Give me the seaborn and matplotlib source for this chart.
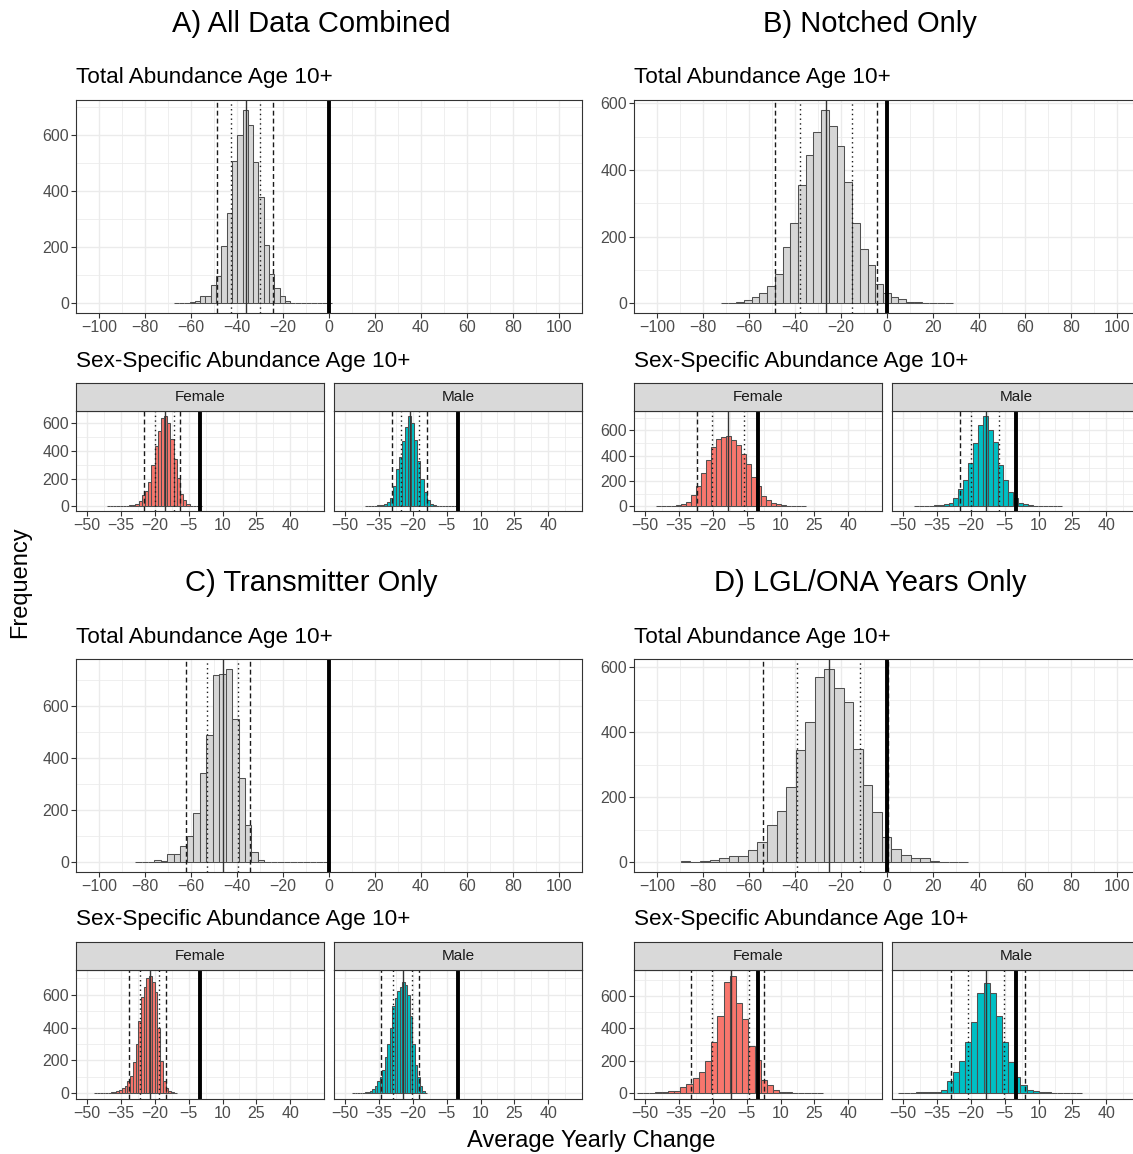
import numpy as np
import pandas as pd
import matplotlib
matplotlib.use("Agg")
import matplotlib.pyplot as plt
from matplotlib.ticker import MultipleLocator, FixedLocator
import seaborn as sns

# ---------------------------------------------------------------------------
# Posterior draws of average yearly change, binned into 30 bins per histogram.
# Each histogram: (low edge, high edge) of the binned range and bin counts.
# Interval lines: 95% low, 80% low, median, 80% high, 95% high.
# ---------------------------------------------------------------------------
panel_titles = ["A) All Data Combined", "B) Notched Only",
                "C) Transmitter Only", "D) LGL/ONA Years Only"]
total_title = "Total Abundance Age 10+"
sex_title = "Sex-Specific Abundance Age 10+"
sexes = ["Female", "Male"]

# A) All data combined
a_total_range = [-67.5, 1.5]
a_total_counts = [1, 1, 2, 3, 8, 26, 26, 67, 99, 206, 324, 509, 602, 692, 639,
                  505, 381, 209, 103, 56, 26, 8, 2, 1, 1, 0, 1, 0, 0, 1]
a_total_lines = [-48.8, -42.4, -36.2, -29.9, -24.5]
a_female_range = [-41.3, 1.0]
a_female_counts = [1, 1, 1, 2, 3, 4, 6, 9, 13, 21, 40, 85, 111, 175, 300,
                   432, 545, 635, 654, 600, 482, 340, 205, 92, 45, 17, 6, 3, 1, 1]
a_female_lines = [-24.7, -19.8, -15.4, -11.7, -8.7]
a_male_range = [-41.2, -0.3]
a_male_counts = [1, 1, 2, 4, 8, 12, 18, 30, 60, 150, 270, 355, 470, 570, 650,
                 600, 475, 330, 195, 104, 45, 21, 8, 3, 1, 1, 0, 0, 0, 1]
a_male_lines = [-29.2, -25.2, -21.1, -17.3, -13.6]

# B) Notched only
b_total_range = [-72.3, 28.5]
b_total_counts = [1, 2, 5, 10, 20, 31, 52, 87, 169, 242, 355, 445, 513, 581, 532,
                  472, 363, 241, 163, 116, 59, 32, 18, 12, 5, 3, 2, 1, 1, 1]
b_total_lines = [-48.9, -38.0, -26.7, -15.3, -4.3]
b_female_range = [-45.1, 21.1]
b_female_counts = [1, 2, 3, 5, 9, 18, 37, 89, 160, 265, 364, 469, 535, 548, 553,
                   522, 482, 417, 338, 233, 160, 81, 50, 24, 16, 10, 5, 3, 1, 1]
b_female_lines = [-26.9, -20.4, -13.4, -6.1, 0.2]
b_male_range = [-45.3, 20.6]
b_male_counts = [1, 2, 3, 5, 8, 10, 16, 31, 63, 134, 212, 343, 500, 640, 718,
                 600, 508, 325, 207, 115, 63, 31, 18, 10, 5, 3, 2, 1, 1, 1]
b_male_lines = [-25.0, -19.8, -13.5, -7.6, -0.5]

# C) Transmitter only
c_total_range = [-84.3, 0.0]
c_total_counts = [2, 1, 2, 9, 6, 32, 32, 63, 101, 189, 342, 490, 718, 724, 743,
                  549, 325, 143, 41, 10, 2, 1, 1, 0, 0, 1, 0, 0, 0, 1]
c_total_lines = [-62.0, -53.2, -46.3, -39.5, -34.3]
c_female_range = [-46.8, -10.4]
c_female_counts = [1, 1, 1, 2, 2, 3, 5, 8, 12, 20, 34, 44, 75, 105, 190,
                   297, 442, 586, 650, 700, 715, 680, 619, 398, 196, 75, 34, 14, 5, 2]
c_female_lines = [-31.4, -26.4, -22.3, -18.1, -15.1]
c_male_range = [-47.0, -13.6]
c_male_counts = [1, 1, 2, 2, 3, 5, 8, 14, 26, 45, 75, 101, 142, 220, 300,
                 396, 530, 580, 620, 650, 676, 660, 600, 470, 300, 170, 100, 45, 12, 3]
c_male_lines = [-34.1, -29.0, -24.5, -20.3, -17.4]

# D) LGL/ONA years only
d_total_range = [-89.6, 35.2]
d_total_counts = [5, 2, 4, 7, 12, 20, 20, 38, 63, 116, 159, 232, 345, 431, 569,
                  596, 538, 492, 350, 237, 155, 77, 41, 22, 13, 13, 3, 2, 2, 1]
d_total_lines = [-53.8, -39.3, -25.4, -11.7, 0.3]
d_female_range = [-53.8, 28.8]
d_female_counts = [1, 2, 3, 6, 10, 16, 16, 35, 55, 96, 133, 201, 314, 478, 687,
                   724, 558, 457, 291, 205, 82, 51, 20, 10, 5, 3, 2, 1, 1, 1]
d_female_lines = [-29.8, -20.4, -12.1, -4.1, 2.7]
d_male_range = [-52.5, 29.2]
d_male_counts = [1, 2, 3, 4, 6, 8, 10, 20, 72, 133, 201, 314, 437, 619, 681,
                 619, 478, 314, 195, 98, 51, 20, 16, 10, 5, 3, 2, 1, 1, 1]
d_male_lines = [-29.0, -21.3, -13.2, -5.2, 4.1]

panels = [
    (a_total_range, a_total_counts, a_total_lines,
     [(a_female_range, a_female_counts, a_female_lines),
      (a_male_range, a_male_counts, a_male_lines)]),
    (b_total_range, b_total_counts, b_total_lines,
     [(b_female_range, b_female_counts, b_female_lines),
      (b_male_range, b_male_counts, b_male_lines)]),
    (c_total_range, c_total_counts, c_total_lines,
     [(c_female_range, c_female_counts, c_female_lines),
      (c_male_range, c_male_counts, c_male_lines)]),
    (d_total_range, d_total_counts, d_total_lines,
     [(d_female_range, d_female_counts, d_female_lines),
      (d_male_range, d_male_counts, d_male_lines)]),
]

# ---------------------------------------------------------------------------
W, H, DPI = 1133, 1154, 100
sns.set_theme(style="white")
plt.rcParams["font.family"] = ["Liberation Sans", "DejaVu Sans"]

GRID = "#EBEBEB"
DARK = "#333333"
TICKLAB = "#4D4D4D"
TOTAL_FILL = "#D6D6D6"
SEX_FILL = {"Female": "#F8766D", "Male": "#00BFC4"}
BAR_EDGE = "#505050"

fig = plt.figure(figsize=(W / DPI, H / DPI), dpi=DPI)
fig.patch.set_facecolor("white")


def px_axes(x0, y0, x1, y1):
    return fig.add_axes([x0 / W, 1 - y1 / H, (x1 - x0) / W, (y1 - y0) / H])


def style_axes(ax):
    ax.set_facecolor("white")
    ax.set_axisbelow(True)
    ax.grid(which="major", color=GRID, lw=1.0)
    ax.grid(which="minor", color=GRID, lw=0.55)
    for s in ax.spines.values():
        s.set_color(DARK)
        s.set_linewidth(0.8)
        s.set_visible(True)
    ax.tick_params(which="major", length=3.6, width=0.8, color=DARK,
                   labelcolor=TICKLAB, labelsize=11.5, pad=1.5,
                   bottom=True, left=True)
    ax.tick_params(which="minor", length=0)
    ax.set_xlabel("")
    ax.set_ylabel("")


def draw_hist(ax, rng, counts, lines, fill):
    nbins = len(counts)
    edges = np.linspace(rng[0], rng[1], nbins + 1)
    binned = pd.DataFrame({"change": (edges[:-1] + edges[1:]) / 2,
                           "n": np.asarray(counts, dtype=float)})
    sns.histplot(data=binned, x="change", weights="n", bins=nbins,
                 binrange=(rng[0], rng[1]), ax=ax,
                 color=fill, edgecolor=BAR_EDGE, linewidth=0.75, alpha=1)
    lo95, lo80, med, hi80, hi95 = lines
    for v in (lo95, hi95):
        ax.axvline(v, color="#1A1A1A", lw=1.0, dashes=(3.5, 2.2))
    for v in (lo80, hi80):
        ax.axvline(v, color="#1A1A1A", lw=1.0, dashes=(1.0, 2.4))
    ax.axvline(med, color=DARK, lw=1.0)
    ax.axvline(0, color="black", lw=2.8)


# column x offsets and row y offsets
col_x = [76, 634]
row_dy = [0, 559]
title_cx = [311, 870]

for i, (trng, tcounts, tlines, sex_data) in enumerate(panels):
    row, col = divmod(i, 2)
    x0 = col_x[col]
    dy = row_dy[row]

    fig.text(title_cx[col] / W, 1 - (24 + dy) / H, panel_titles[i],
             ha="center", va="center", fontsize=21, color="black")
    fig.text(x0 / W, 1 - (78 + dy) / H, total_title,
             ha="left", va="center", fontsize=16.2, color="black")
    fig.text(x0 / W, 1 - (361 + dy) / H, sex_title,
             ha="left", va="center", fontsize=16.2, color="black")

    # total abundance histogram
    ax = px_axes(x0, 100 + dy, x0 + 506, 313 + dy)
    draw_hist(ax, trng, tcounts, tlines, TOTAL_FILL)
    m = max(tcounts)
    ax.set_xlim(-110, 110)
    ax.set_ylim(-0.05 * m, 1.05 * m)
    ax.xaxis.set_major_locator(MultipleLocator(20))
    ax.xaxis.set_minor_locator(MultipleLocator(10))
    ax.yaxis.set_major_locator(MultipleLocator(200))
    ax.yaxis.set_minor_locator(MultipleLocator(100))
    style_axes(ax)

    # sex-specific facets (shared y scale)
    m = max(max(sex_data[0][1]), max(sex_data[1][1]))
    strip_top = 383 + dy
    strip_bot = 411 + dy
    panel_bot = 511 if row == 0 else 1099
    for j, (srng, scounts, slines) in enumerate(sex_data):
        sx0 = x0 + j * 258
        sx1 = sx0 + 248
        sax = px_axes(sx0, strip_bot, sx1, panel_bot)
        draw_hist(sax, srng, scounts, slines, SEX_FILL[sexes[j]])
        sax.set_xlim(-55, 55)
        sax.set_ylim(-0.05 * m, 1.05 * m)
        sax.xaxis.set_major_locator(FixedLocator(np.arange(-50, 41, 15)))
        sax.xaxis.set_minor_locator(FixedLocator(np.arange(-42.5, 50, 15)))
        sax.yaxis.set_major_locator(MultipleLocator(200))
        sax.yaxis.set_minor_locator(MultipleLocator(100))
        style_axes(sax)
        if j == 1:
            sax.tick_params(labelleft=False, left=False)

        stp = px_axes(sx0, strip_top, sx1, strip_bot)
        stp.set_facecolor("#D9D9D9")
        stp.set_xticks([])
        stp.set_yticks([])
        for s in stp.spines.values():
            s.set_color(DARK)
            s.set_linewidth(0.8)
            s.set_visible(True)
        stp.text(0.5, 0.5, sexes[j], ha="center", va="center",
                 fontsize=11, color="#1A1A1A", transform=stp.transAxes)

fig.text(20 / W, 1 - 582 / H, "Frequency", rotation=90,
         ha="center", va="center", fontsize=17, color="black")
fig.text(591 / W, 1 - 1141 / H, "Average Yearly Change",
         ha="center", va="center", fontsize=17, color="black")

fig.savefig("out.png", dpi=DPI, facecolor="white")
